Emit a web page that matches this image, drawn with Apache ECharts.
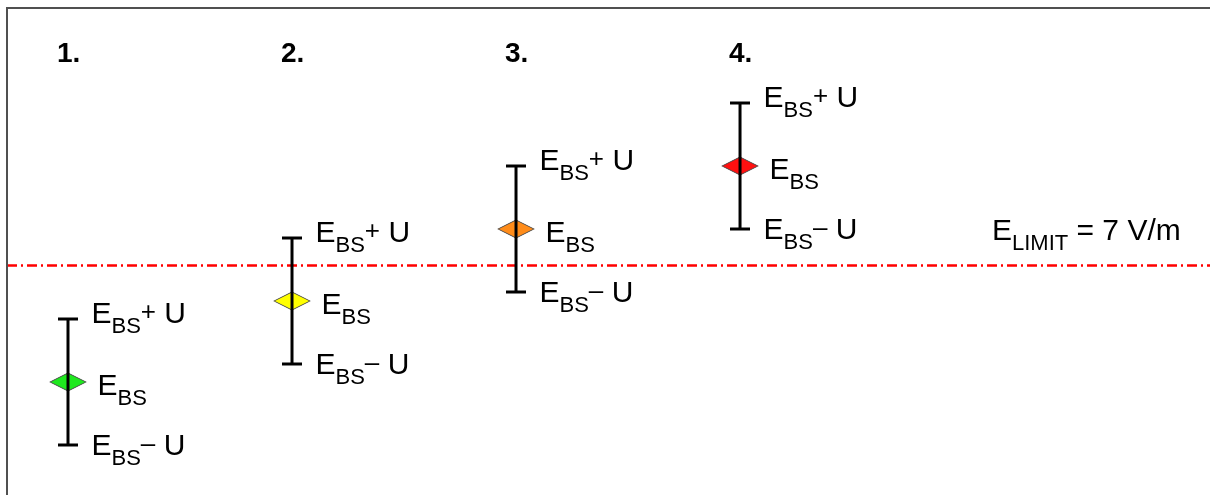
<!DOCTYPE html>
<html><head><meta charset="utf-8">
<script src="https://cdn.jsdelivr.net/npm/echarts@6/dist/echarts.min.js"></script>
<style>html,body{margin:0;padding:0;background:#fff}#c{width:1210px;height:495px}</style>
</head><body><div id="c"></div>
<script>
// ---- data ----
const categories = ['1.', '2.', '3.', '4.'];
const positions = [1, 2, 3, 4];
const ebs = [3.75, 6.0, 8.0, 9.75];
const uncertainty = [1.75, 1.75, 1.75, 1.75];
const markerColors = ['#1ee81e', '#ffff00', '#ff8c1a', '#ff1010'];
const limitValue = 7;
const limitUnit = 'V/m';
const numberRowValue = 12.85;

// ---- styles ----
const FONT = '"Liberation Sans", Arial, sans-serif';
const rich = {
  e: { fontSize: 30, fontFamily: FONT, color: '#000', lineHeight: 30, verticalAlign: 'top' },
  s: { fontSize: 22, fontFamily: FONT, color: '#000', lineHeight: 22, verticalAlign: 'bottom' },
  p: { fontSize: 26, fontFamily: FONT, color: '#000', lineHeight: 28, verticalAlign: 'top' },
  z: { fontSize: 1, fontFamily: FONT, color: '#000', lineHeight: 38 }
};

const errData = positions.map((x, i) => [x, ebs[i] - uncertainty[i], ebs[i] + uncertainty[i]]);
const centerData = positions.map((x, i) => ({ value: [x, ebs[i]], itemStyle: { color: markerColors[i] } }));
const upperData = positions.map((x, i) => [x, ebs[i] + uncertainty[i]]);
const lowerData = positions.map((x, i) => [x, ebs[i] - uncertainty[i]]);
const numberData = positions.map((x, i) => ({ value: [x, numberRowValue], name: categories[i] }));

const hidden = { color: 'rgba(0,0,0,0)', opacity: 1 };

const chart = echarts.init(document.getElementById('c'), null, { renderer: 'canvas' });
chart.setOption({
  animation: false,
  backgroundColor: '#fff',
  grid: { left: 7, right: 0, top: 8, bottom: 0 },
  xAxis: { type: 'value', min: 0.7277, max: 6.098, show: false },
  yAxis: { type: 'value', min: 0.611, max: 14.139, show: false },
  graphic: [
    { type: 'line', shape: { x1: 7, y1: 8, x2: 1210, y2: 8 }, style: { stroke: '#505050', lineWidth: 2 }, z: 100 },
    { type: 'line', shape: { x1: 7, y1: 7, x2: 7, y2: 495 }, style: { stroke: '#505050', lineWidth: 2 }, z: 100 }
  ],
  series: [
    {
      type: 'scatter', name: 'EBS', data: centerData, z: 2,
      symbol: 'diamond', symbolSize: [36, 18],
      itemStyle: { borderColor: '#444', borderWidth: 0.8, opacity: 1 },
      label: { show: true, position: 'right', distance: 11, offset: [0, 9], formatter: '{e|E}{s|BS}{z| }', rich: rich },
      markLine: {
        silent: true, symbol: 'none', animation: false,
        lineStyle: { color: '#ff0000', width: 2.5, type: [10, 4, 2, 4] },
        label: {
          show: true, position: 'insideEndTop', distance: [29, 10],
          formatter: '{e|E}{s|LIMIT}{e| = ' + limitValue + ' ' + limitUnit + '}{z| }', rich: rich
        },
        data: [{ yAxis: limitValue }]
      }
    },
    {
      type: 'custom', name: 'range', z: 5,
      data: errData,
      renderItem: function (params, api) {
        const x = api.value(0), lo = api.value(1), hi = api.value(2);
        const pHi = api.coord([x, hi]), pLo = api.coord([x, lo]);
        const hw = 10;
        const st = { stroke: '#000', lineWidth: 3 };
        return {
          type: 'group', children: [
            { type: 'line', shape: { x1: pHi[0], y1: pHi[1], x2: pLo[0], y2: pLo[1] }, style: st },
            { type: 'line', shape: { x1: pHi[0] - hw, y1: pHi[1], x2: pHi[0] + hw, y2: pHi[1] }, style: st },
            { type: 'line', shape: { x1: pLo[0] - hw, y1: pLo[1], x2: pLo[0] + hw, y2: pLo[1] }, style: st }
          ]
        };
      }
    },
    {
      type: 'scatter', name: 'upper', data: upperData, symbolSize: 1, itemStyle: hidden,
      label: { show: true, position: 'right', distance: 23, offset: [0, 0], formatter: '{e|E}{s|BS}{p|+}{e| U}{z| }', rich: rich }
    },
    {
      type: 'scatter', name: 'lower', data: lowerData, symbolSize: 1, itemStyle: hidden,
      label: { show: true, position: 'right', distance: 23, offset: [0, 6], formatter: '{e|E}{s|BS}{p|\u2013}{e| U}{z| }', rich: rich }
    },
    {
      type: 'scatter', name: 'numbers', data: numberData, symbolSize: 1, itemStyle: hidden,
      label: {
        show: true, position: 'inside', align: 'left', offset: [-11, 0],
        formatter: '{b}', fontSize: 28, fontWeight: 'bold', fontFamily: FONT, color: '#000'
      }
    }
  ]
});
</script>
</body></html>
